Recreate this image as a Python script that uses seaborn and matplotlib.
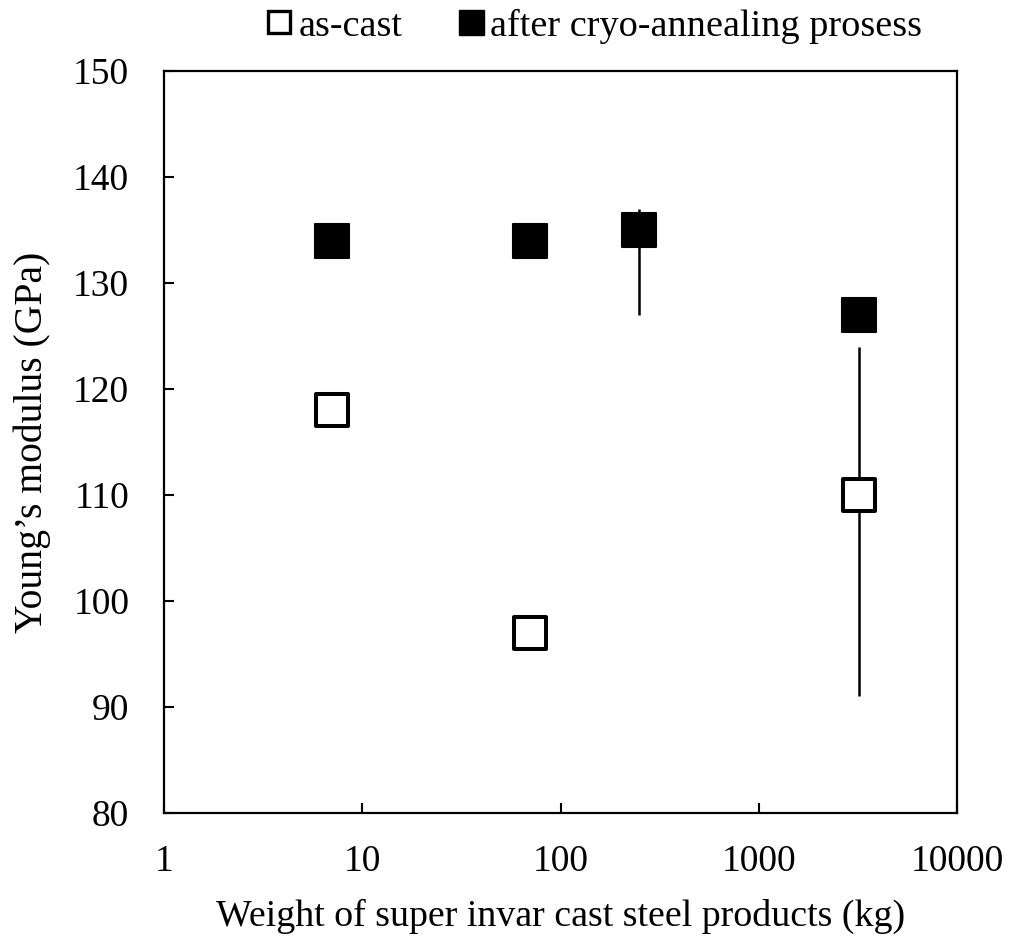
import numpy as np
import pandas as pd
import matplotlib
matplotlib.use("Agg")
import matplotlib.pyplot as plt
import seaborn as sns
from matplotlib.lines import Line2D

# Measured Young's modulus vs product weight
as_cast_weight = [7, 70, 3200]
as_cast_modulus = [118, 97, 110]
as_cast_err_low = [0, 0, 19]
as_cast_err_high = [0, 0, 14]

cryo_weight = [7, 70, 250, 3200]
cryo_modulus = [134, 134, 135, 127]
cryo_err_low = [0, 0, 8, 0]
cryo_err_high = [0, 0, 2, 0]

labels = ["as-cast", "after cryo-annealing prosess"]
x_ticks = [1, 10, 100, 1000, 10000]
y_ticks = [80, 90, 100, 110, 120, 130, 140, 150]

df = pd.DataFrame({
    "weight": as_cast_weight + cryo_weight,
    "modulus": as_cast_modulus + cryo_modulus,
    "state": [labels[0]] * len(as_cast_weight) + [labels[1]] * len(cryo_weight),
})

sns.set_theme(style="ticks")
plt.rcParams["font.family"] = ["Liberation Serif", "DejaVu Serif"]
plt.rcParams["text.color"] = "black"
plt.rcParams["axes.labelcolor"] = "black"

fig = plt.figure(figsize=(10.13, 9.4), dpi=100)
ax = fig.add_axes([164 / 1013, 1 - 813 / 940, (957 - 164) / 1013, (813 - 71) / 940])

# error bars drawn first so the markers sit on top
ax.errorbar(as_cast_weight, as_cast_modulus,
            yerr=[as_cast_err_low, as_cast_err_high],
            fmt="none", ecolor="black", elinewidth=1.8, capsize=0, zorder=1)
ax.errorbar(cryo_weight, cryo_modulus,
            yerr=[cryo_err_low, cryo_err_high],
            fmt="none", ecolor="black", elinewidth=1.8, capsize=0, zorder=1)

# square markers: open for as-cast, filled after cryo-annealing
sns.scatterplot(data=df[df["state"] == labels[0]], x="weight", y="modulus",
                marker="s", s=23.5 ** 2, color="white", edgecolor="black",
                linewidth=2.9, legend=False, zorder=3, ax=ax)
sns.scatterplot(data=df[df["state"] == labels[1]], x="weight", y="modulus",
                marker="s", s=24.5 ** 2, color="black", edgecolor="black",
                linewidth=1.5, legend=False, zorder=3, ax=ax)

ax.set_xscale("log")
ax.set_xlim(1, 10000)
ax.set_ylim(80, 150)
ax.set_xticks(x_ticks)
ax.set_xticklabels([str(v) for v in x_ticks])
ax.xaxis.set_minor_locator(matplotlib.ticker.NullLocator())
ax.set_yticks(y_ticks)

for s in ax.spines.values():
    s.set_visible(True)
    s.set_linewidth(1.6)
    s.set_color("black")

ax.tick_params(axis="both", which="major", direction="in", length=7.5, width=1.5,
               labelsize=27, colors="black", bottom=True, left=True,
               top=False, right=False)
ax.tick_params(axis="x", pad=23)
ax.tick_params(axis="y", pad=25)

ax.set_xlabel("Weight of super invar cast steel products (kg)", fontsize=27.3,
              color="black", labelpad=14)
ax.set_ylabel("Young\u2019s modulus (GPa)", fontsize=28.5, color="black", labelpad=16)

handles = [
    Line2D([], [], linestyle="none", marker="s", markersize=16.5,
           markerfacecolor="white", markeredgecolor="black", markeredgewidth=2.4),
    Line2D([], [], linestyle="none", marker="s", markersize=18,
           markerfacecolor="black", markeredgecolor="black"),
]
fig.legend(handles, labels, loc="center", bbox_to_anchor=(591 / 1013, 1 - 26 / 940),
           ncol=2, frameon=False, fontsize=27.5, handletextpad=0.0,
           columnspacing=1.3, handlelength=1.0, borderpad=0.2)

fig.savefig("out.png", dpi=100, facecolor="white")
